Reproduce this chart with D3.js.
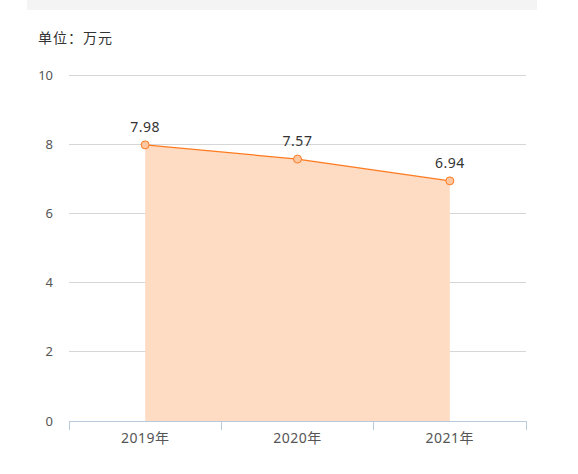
<!DOCTYPE html>
<html><head><meta charset="utf-8">
<script src="https://cdn.jsdelivr.net/npm/d3@7"></script>
<style>body{margin:0;background:#fff;}svg{display:block;}</style>
</head><body>
<svg id="chart" width="578" height="474"></svg>
<script>
const categories = ["2019年", "2020年", "2021年"];
const values = [7.98, 7.57, 6.94];
const yTicks = [0, 2, 4, 6, 8, 10];
const unitLabel = "单位：万元";

(function () {
const svg = d3.select("#chart");
const font = "'Noto Sans','Noto Sans CJK SC',sans-serif";
const mLeft = 69, mRight = 526, mTop = 75, mBottom = 421;

svg.append("rect").attr("x", 27).attr("y", 0).attr("width", 510).attr("height", 10).attr("fill", "#f4f4f4");
svg.append("text").attr("x", 38).attr("y", 43).attr("font-family", font).attr("font-size", 14).attr("letter-spacing", "1px").attr("fill", "#333").text(unitLabel);

const x = d3.scaleBand().domain(categories).range([mLeft, mRight]);
const y = d3.scaleLinear().domain([0, 10]).range([mBottom, mTop]);

const grid = svg.append("g");
grid.selectAll("line").data(yTicks.filter(t => t !== 0)).join("line")
  .attr("x1", mLeft).attr("x2", mRight).attr("y1", d => y(d)).attr("y2", d => y(d))
  .attr("stroke", "#d6d6d6").attr("stroke-width", 1).attr("shape-rendering", "crispEdges");

const yAxis = svg.append("g").attr("transform", `translate(${mLeft},0)`)
  .call(d3.axisLeft(y).tickValues(yTicks).tickSize(0).tickPadding(16));
yAxis.select(".domain").remove();
yAxis.selectAll("text").attr("font-family", font).attr("font-size", 13).attr("fill", "#555");

const cx = d => x(d) + x.bandwidth() / 2;
const data = categories.map((c, i) => ({c, v: values[i]}));

svg.append("path").datum(data)
  .attr("d", d3.area().x(d => cx(d.c)).y0(y(0)).y1(d => y(d.v)))
  .attr("fill", "#fedcc4");
svg.append("path").datum(data)
  .attr("d", d3.line().x(d => cx(d.c)).y(d => y(d.v)))
  .attr("fill", "none").attr("stroke", "#ff7a1f").attr("stroke-width", 1.2);

const xAxis = svg.append("g").attr("transform", `translate(0,${mBottom})`)
  .call(d3.axisBottom(x).tickSizeOuter(0).tickSize(0).tickPadding(12));
xAxis.select(".domain").attr("stroke", "#b9cadd");
xAxis.selectAll("text").attr("font-family", font).attr("font-size", 14).attr("fill", "#555").attr("letter-spacing", "0.5px");
const bounds = categories.map(c => x(c)).concat([mRight]);
xAxis.selectAll("line.bd").data(bounds).join("line").attr("class", "bd")
  .attr("x1", d => d).attr("x2", d => d).attr("y1", 0).attr("y2", 9)
  .attr("stroke", "#b9cadd").attr("shape-rendering", "crispEdges");

svg.selectAll("circle.pt").data(data).join("circle").attr("class", "pt")
  .attr("cx", d => cx(d.c)).attr("cy", d => y(d.v)).attr("r", 4)
  .attr("fill", "#fdc7a2").attr("stroke", "#ff7a1f").attr("stroke-width", 1);

svg.selectAll("text.lbl").data(data).join("text").attr("class", "lbl")
  .attr("x", d => cx(d.c)).attr("y", d => y(d.v) - 13)
  .attr("text-anchor", "middle").attr("font-family", font).attr("font-size", 14)
  .attr("letter-spacing", "0.5px")
  .attr("fill", "#333").text(d => d.v.toFixed(2));
})();
</script>
</body></html>
